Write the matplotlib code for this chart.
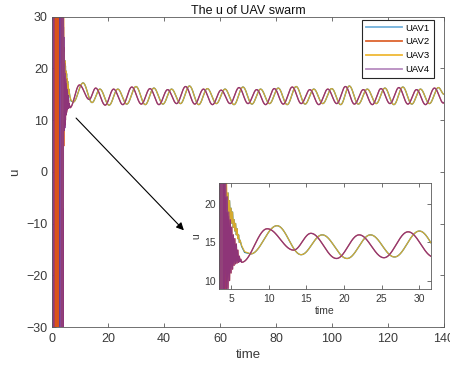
import numpy as np
import matplotlib
matplotlib.use("Agg")
import matplotlib.pyplot as plt

plt.rcParams['font.family'] = ['Liberation Sans', 'DejaVu Sans']

# ---------------- data ----------------
labels = ["UAV1", "UAV2", "UAV3", "UAV4"]
colors = ["#0072BD", "#D95319", "#EDB120", "#7E2F8E"]

# transient (chattering) samples, t < ~7 s
tr1_t = [0.0, 2.2, 2.3, 2.4, 2.5, 2.6, 2.7, 2.8, 3.2, 3.3, 3.4, 3.5, 3.6, 3.7, 3.8, 3.9, 4.0,
         4.1, 4.2, 4.3, 4.4, 4.5, 4.6, 4.7, 4.8, 4.9, 5.0, 5.1, 5.2, 5.3, 5.4, 5.5, 5.6,
         5.7, 5.8, 5.9, 6.0, 6.1, 6.2, 6.4, 6.8]
tr1_v = [60, 60, -60, 60, -60, 60, -60, 60, 60, 35, 21, 26, 22, 25, 21, 24, 22,
         23.5, 21, 22.5, 20.5, 19, 21.5, 18.5, 20.5, 18, 19.5, 17.5, 19, 17, 18, 16.5, 17.5,
         16, 16.8, 15.5, 16, 15, 15.3, 14.5, 13.7]

tr2_t = [0.0, 0.7, 0.8, 0.9, 1.0, 1.1, 1.2, 1.3, 1.4, 1.5, 1.6, 1.7, 1.8, 1.9, 2.0, 2.1, 2.2,
         3.3, 3.4, 3.5, 3.6, 3.7, 3.8, 3.9, 4.0, 4.1, 4.2, 4.3, 4.4, 4.5, 4.6, 4.7, 4.8, 4.9,
         5.0, 5.1, 5.2, 5.3, 5.4, 5.5, 5.6, 5.7, 5.8, 5.9, 6.0, 6.1, 6.2, 6.3]
tr2_v = [-60, -60, 60, -60, 60, -60, 60, -60, 60, -60, 60, -60, 60, -60, 60, -60, 60,
         60, -60, 60, -60, 60, -60, 60, -60, 60, 5, 24, 8, 21, 9, 19, 10, 18,
         11, 17, 11.5, 16, 12, 15.5, 12.2, 14.8, 12.3, 14, 12.4, 13.2, 12.5, 12.8]

tr3_t = [0.0, 3.5, 3.6, 3.7, 3.8, 3.9, 4.0, 4.1, 4.2, 4.3, 4.4, 4.5, 4.6, 4.7, 4.8, 4.9,
         5.0, 5.1, 5.2, 5.3, 5.4, 5.5, 5.6, 5.7, 5.8, 5.9, 6.0, 6.1, 6.2, 6.4, 6.8]
tr3_v = [-60, -60, -24, 60, -7, 60, 40, 30, 24, 21, 23, 19, 21.5, 18.5, 20.5, 18,
         19.5, 17.5, 19, 17, 18, 16.5, 17.5, 16, 16.8, 15.5, 16, 15, 15.3, 14.6, 13.8]

tr4_t = [0.0, 0.1, 0.2, 0.3, 0.4, 0.5, 0.6, 0.7, 2.8, 2.9, 3.0, 3.1, 3.2, 3.3, 3.4, 3.5,
         3.6, 3.7, 3.8, 3.9, 4.0, 4.1, 4.2, 4.3, 4.4, 4.5, 4.6, 4.7, 4.8, 4.9, 5.0, 5.1,
         5.2, 5.3, 5.4, 5.5, 5.6, 5.7, 5.8, 5.9, 6.0, 6.1, 6.2, 6.3]
tr4_v = [60, -60, 60, -60, 60, -60, 60, -60, -60, 60, -60, 60, -60, 60, -60, 60,
         -60, 60, -60, 60, -60, 28, 9, 26, 8, 21, 8.5, 19, 10, 18, 11, 17,
         11.5, 16, 12, 15.5, 12.2, 14.8, 12.3, 14, 12.4, 13.2, 12.5, 12.8]

# steady oscillation: extrema (time, value) of UAV1/UAV3 (overlapping)
ext13_t = [7.6, 11.1, 14.3, 17.1, 20.4, 23.5, 26.7, 30.0, 33.3, 36.4, 39.6, 42.7, 45.9,
           49.1, 52.4, 55.5, 58.7, 61.8, 65.0, 68.2, 71.4, 74.5, 77.7, 80.8, 84.0, 87.2,
           90.4, 93.5, 96.7, 99.9, 103.1, 106.2, 109.4, 112.6, 115.8, 118.9, 122.1, 125.3,
           128.5, 131.6, 134.8, 138.0, 140.0]
ext13_v = [13.5, 17.2, 13.4, 16.0, 12.9, 16.0, 13.1, 16.5, 13.0, 16.2, 13.1, 16.0, 13.2,
           16.6, 13.0, 16.1, 13.2, 16.0, 13.0, 16.4, 13.1, 16.0, 13.2, 16.2, 13.0, 16.5,
           13.1, 16.0, 13.2, 16.1, 13.0, 16.6, 13.1, 16.0, 13.2, 16.2, 13.0, 16.4,
           13.1, 16.0, 13.2, 16.3, 15.0]
# extrema of UAV2/UAV4 (overlapping)
ext24_t = [6.4, 9.8, 13.3, 15.6, 19.0, 22.0, 25.3, 28.5, 31.9, 35.0, 38.2, 41.3, 44.5,
           47.7, 51.0, 54.1, 57.3, 60.4, 63.6, 66.8, 70.0, 73.1, 76.3, 79.4, 82.6, 85.8,
           89.0, 92.1, 95.3, 98.5, 101.7, 104.8, 108.0, 111.2, 114.4, 117.5, 120.7, 123.9,
           127.1, 130.2, 133.4, 136.6, 139.8, 140.0]
ext24_v = [12.4, 16.8, 14.0, 16.2, 12.9, 16.0, 13.0, 16.4, 13.1, 16.1, 13.0, 15.9, 13.2,
           16.5, 13.1, 16.0, 13.0, 15.8, 13.2, 16.3, 13.2, 15.9, 13.0, 16.1, 13.1, 16.4,
           13.2, 15.9, 13.0, 16.0, 13.2, 16.5, 13.1, 15.9, 13.0, 16.1, 13.2, 16.3,
           13.1, 15.9, 13.0, 16.2, 13.3, 13.4]


def smooth_from_extrema(et, ev, step=0.02):
    """Join consecutive extrema with half-cosine arcs."""
    ts, vs = [], []
    for i in range(len(et) - 1):
        n = max(2, int(round((et[i + 1] - et[i]) / step)))
        s = np.linspace(0, 1, n, endpoint=False)
        ts.append(et[i] + (et[i + 1] - et[i]) * s)
        vs.append(ev[i] + (ev[i + 1] - ev[i]) * (1 - np.cos(np.pi * s)) / 2)
    ts.append([et[-1]])
    vs.append([ev[-1]])
    return np.concatenate(ts), np.concatenate(vs)


def build(tr_t, tr_v, et, ev):
    st, sv = smooth_from_extrema(et, ev)
    return np.concatenate([tr_t, st]), np.concatenate([tr_v, sv])


series = [build(tr1_t, tr1_v, ext13_t, ext13_v),
          build(tr2_t, tr2_v, ext24_t, ext24_v),
          build(tr3_t, tr3_v, ext13_t, ext13_v),
          build(tr4_t, tr4_v, ext24_t, ext24_v)]

alphas = [1.0, 1.0, 0.9, 0.82]
leg_alphas = [0.55, 0.9, 0.9, 0.55]
lw_data = 0.9

# ---------------- figure ----------------
W, H = 450, 369
fig = plt.figure(figsize=(W / 100, H / 100), dpi=100)
axc = "#5a5a5a"
txtc = "#3a3a3a"


def style(ax, fs, pad):
    for sp in ax.spines.values():
        sp.set_color(axc)
        sp.set_linewidth(0.6)
    ax.tick_params(direction="in", length=3, width=0.6, colors=axc, labelcolor=txtc,
                   labelsize=fs, top=True, right=True, pad=pad)


ax = fig.add_axes([52 / W, 1 - 327 / H, 392 / W, 310.3 / H])
for (t, v), c, a, lab in zip(series, colors, alphas, labels):
    ax.plot(t, v, color=c, alpha=a, lw=lw_data, label=lab)
ax.set_xlim(0, 140)
ax.set_ylim(-30, 30)
ax.set_xticks(np.arange(0, 141, 20))
ax.set_yticks(np.arange(-30, 31, 10))
style(ax, 9, 3)
ax.tick_params(axis="x", pad=4.5)
ax.set_title("The u of UAV swarm", fontsize=9, color="#111111", pad=2)
ax.set_xlabel("time", fontsize=9.5, color=txtc, labelpad=3)
ax.set_ylabel("u", fontsize=9.5, color=txtc, labelpad=4)

leg = ax.legend(loc="upper right", bbox_to_anchor=(434 / W, 1 - 19.5 / H),
                bbox_transform=fig.transFigure, fontsize=6.8, handlelength=3.8,
                handletextpad=0.35, labelspacing=0.5, borderpad=0.45,
                fancybox=False, framealpha=1, borderaxespad=0)
leg.get_frame().set_edgecolor("#262626")
leg.get_frame().set_linewidth(0.8)
for h, la in zip(leg.get_lines(), leg_alphas):
    h.set_linewidth(1.3)
    h.set_alpha(la)

ax.annotate("", xy=(47.1, -11.3), xytext=(8.6, 10.4),
            arrowprops=dict(arrowstyle="-|>", color="black", lw=0.8,
                            mutation_scale=11, shrinkA=0, shrinkB=0))

ins = fig.add_axes([219 / W, 1 - 289 / H, 211.7 / W, 106 / H])
for (t, v), c, a in zip(series, colors, alphas):
    ins.plot(t, v, color=c, alpha=a, lw=lw_data)
ins.set_xlim(3.4, 31.5)
ins.set_ylim(8.9, 22.8)
ins.set_xticks([5, 10, 15, 20, 25, 30])
ins.set_yticks([10, 15, 20])
style(ins, 7.5, 2)
ins.tick_params(axis="x", pad=3.5)
ins.set_xlabel("time", fontsize=7.5, color=txtc, labelpad=1.5)
ins.set_ylabel("u", fontsize=7.5, color=txtc, labelpad=2)

fig.savefig("out.png", dpi=100)
